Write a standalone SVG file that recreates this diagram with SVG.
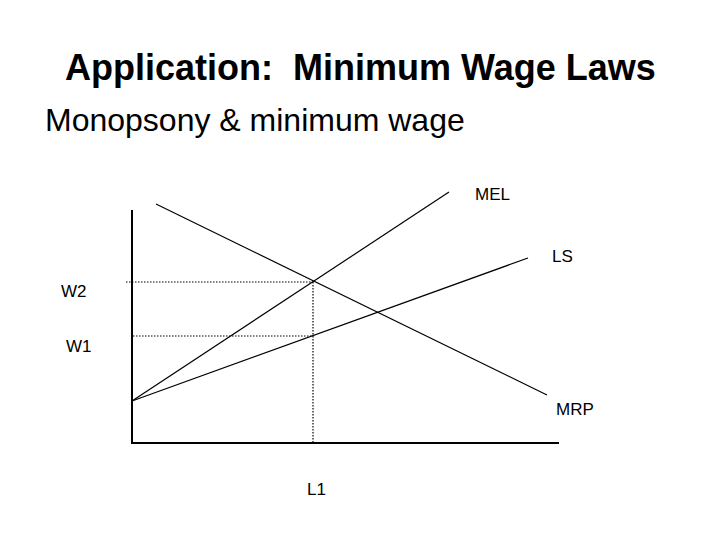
<svg xmlns="http://www.w3.org/2000/svg" width="720" height="540" viewBox="0 0 720 540">
<style>
text{font-family:"Liberation Sans",Arial,sans-serif;fill:#000}
.lbl{font-size:17px}
.curve{stroke:#000;stroke-width:1.2;fill:none}
.axis{stroke:#000;stroke-width:2;fill:none}
.dot{stroke:#000;stroke-width:1.2;stroke-dasharray:1.5 1.5;fill:none}
</style>
<rect width="720" height="540" fill="#fff"/>
<text id="title" x="65" y="80" font-size="36" font-weight="bold" xml:space="preserve">Application:  Minimum Wage Laws</text>
<text id="subtitle" x="45" y="131" font-size="32">Monopsony &amp; minimum wage</text>
<g id="axes">
<polyline class="axis" points="132,210 132,443 559,443"/>
</g>
<g id="connectors">
<line class="curve" x1="156" y1="204" x2="547" y2="395"/>
<line class="curve" x1="132" y1="401" x2="449" y2="192"/>
<line class="curve" x1="132" y1="401" x2="528" y2="258"/>
<line class="dot" x1="126" y1="282" x2="313" y2="282"/>
<line class="dot" x1="133" y1="336" x2="313" y2="336"/>
<line class="dot" x1="313" y1="282" x2="313" y2="443"/>
</g>
<g id="MEL"><text class="lbl" x="475" y="200">MEL</text></g>
<g id="LS"><text class="lbl" x="552" y="262">LS</text></g>
<g id="MRP"><text class="lbl" x="556" y="415">MRP</text></g>
<g id="W2"><text class="lbl" x="61" y="297">W2</text></g>
<g id="W1"><text class="lbl" x="66" y="352">W1</text></g>
<g id="L1"><text class="lbl" x="307" y="495">L1</text></g>
</svg>
